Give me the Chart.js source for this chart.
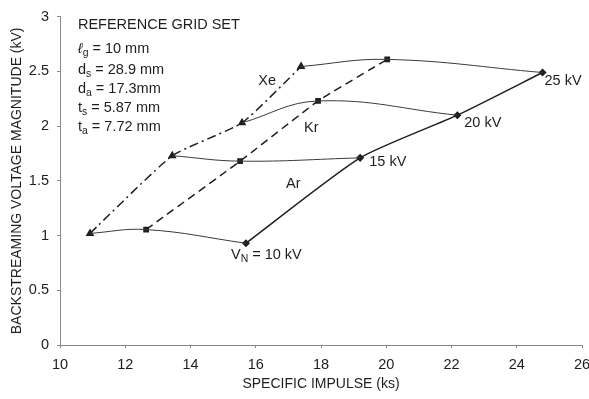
<!DOCTYPE html>
<html>
<head>
<meta charset="utf-8">
<script src="https://cdn.jsdelivr.net/npm/chart.js@4.4.1/dist/chart.umd.min.js"></script>
<style>
  html, body { margin: 0; padding: 0; background: #fff; }
  #wrap { width: 589px; height: 399px; }
</style>
</head>
<body>
<div id="wrap"><canvas id="bsChart" width="589" height="399"></canvas></div>
<script>
// 比推力 (ks) と逆流電圧 (kV) — 読み取り値
const kvLevels   = [10, 15, 20, 25];
const xeImpulse  = [10.92, 13.44, 15.58, 17.39];
const xeVoltage  = [1.02, 1.73, 2.03, 2.545];
const krImpulse  = [12.64, 15.52, 17.91, 20.03];
const krVoltage  = [1.055, 1.68, 2.23, 2.61];
const arImpulse  = [15.7, 19.2, 22.18, 24.79];
const arVoltage  = [0.93, 1.71, 2.10, 2.49];

const xTicks = [10, 12, 14, 16, 18, 20, 22, 24, 26];
const yTicks = [0, 0.5, 1, 1.5, 2, 2.5, 3];

// 注記 (データ座標)
const gasLabels = [
  { text: 'Xe', x: 16.35, y: 2.41, align: 'center' },
  { text: 'Kr', x: 17.7, y: 1.98, align: 'center' },
  { text: 'Ar', x: 17.15, y: 1.47, align: 'center' }
];
const kvLabels = [
  { parts: [['V'], ['N', 'sub'], [' = 10 kV']], x: 15.24, y: 0.82 },
  { parts: [['15 kV']], x: 19.48, y: 1.67 },
  { parts: [['20 kV']], x: 22.39, y: 2.03 },
  { parts: [['25 kV']], x: 24.85, y: 2.41 }
];
const gridSetLines = [
  { parts: [['REFERENCE GRID SET']], y: 2.92 },
  { parts: [['\u2113', 'it'], ['g', 'sub'], [' = 10 mm']], y: 2.705 },
  { parts: [['d'], ['s', 'sub'], [' = 28.9 mm']], y: 2.515 },
  { parts: [['d'], ['a', 'sub'], [' = 17.3mm']], y: 2.34 },
  { parts: [['t'], ['s', 'sub'], [' = 5.87 mm']], y: 2.165 },
  { parts: [['t'], ['a', 'sub'], [' = 7.72 mm']], y: 1.99 }
];
const gridSetX = 10.55;

const FONT = '"Liberation Sans", Arial, sans-serif';
const INK = '#1e1e1e';
const TEXT_SIZE = 14.5;

function toPoints(xs, ys) {
  return xs.map((x, i) => ({ x, y: ys[i] }));
}

// 電圧一定の曲線 (Xe → Kr → Ar)
const kvDatasets = kvLevels.map((kv, i) => ({
  label: kv + ' kV',
  data: [
    { x: xeImpulse[i], y: xeVoltage[i] },
    { x: krImpulse[i], y: krVoltage[i] },
    { x: arImpulse[i], y: arVoltage[i] }
  ],
  showLine: true,
  borderColor: '#3a3a3a',
  borderWidth: 1,
  tension: 0.4,
  pointRadius: 0,
  fill: false
}));

const gasDatasets = [
  {
    label: 'Ar',
    data: toPoints(arImpulse, arVoltage),
    showLine: true,
    borderColor: INK,
    backgroundColor: INK,
    borderWidth: 1.5,
    tension: 0.2,
    pointStyle: 'rectRot',
    pointRadius: 3,
    fill: false
  },
  {
    label: 'Kr',
    data: toPoints(krImpulse, krVoltage),
    showLine: true,
    borderColor: INK,
    backgroundColor: INK,
    borderWidth: 1.5,
    borderDash: [8, 5],
    tension: 0.1,
    pointStyle: 'rect',
    pointRadius: 3,
    fill: false
  },
  {
    label: 'Xe',
    data: toPoints(xeImpulse, xeVoltage),
    showLine: true,
    borderColor: INK,
    backgroundColor: INK,
    borderWidth: 1.5,
    borderDash: [9, 4, 2, 4],
    tension: 0.15,
    pointStyle: 'triangle',
    pointRadius: 3.5,
    fill: false
  }
];

function drawParts(ctx, parts, x, y, size) {
  let cx = x;
  parts.forEach(([t, kind]) => {
    if (kind === 'sub') {
      ctx.font = (size * 0.72) + 'px ' + FONT;
      ctx.fillText(t, cx, y + size * 0.3);
    } else if (kind === 'it') {
      ctx.font = 'italic ' + size + 'px ' + FONT;
      ctx.fillText(t, cx, y);
    } else {
      ctx.font = size + 'px ' + FONT;
      ctx.fillText(t, cx, y);
    }
    cx += ctx.measureText(t).width;
  });
}

const annotationPlugin = {
  id: 'annotations',
  afterDatasetsDraw(chart) {
    const { ctx, scales: { x, y } } = chart;
    ctx.save();
    ctx.fillStyle = INK;
    ctx.textBaseline = 'middle';

    gasLabels.forEach(l => {
      ctx.font = TEXT_SIZE + 'px ' + FONT;
      ctx.textAlign = l.align;
      ctx.fillText(l.text, x.getPixelForValue(l.x), y.getPixelForValue(l.y));
    });

    ctx.textAlign = 'left';
    kvLabels.forEach(l => {
      drawParts(ctx, l.parts, x.getPixelForValue(l.x), y.getPixelForValue(l.y), TEXT_SIZE);
    });
    gridSetLines.forEach(l => {
      drawParts(ctx, l.parts, x.getPixelForValue(gridSetX), y.getPixelForValue(l.y), TEXT_SIZE);
    });
    ctx.restore();
  }
};

new Chart(document.getElementById('bsChart').getContext('2d'), {
  type: 'scatter',
  data: { datasets: [...kvDatasets, ...gasDatasets] },
  options: {
    responsive: false,
    animation: false,
    layout: { padding: { top: 15, right: 0, left: 0, bottom: 0 } },
    plugins: {
      legend: { display: false },
      tooltip: { enabled: false }
    },
    scales: {
      x: {
        type: 'linear',
        min: 10,
        max: 26,
        afterFit(scale) {
          scale.height = 54;
          scale.paddingRight = 7;
          scale.paddingLeft = 0;
        },
        afterBuildTicks(scale) { scale.ticks = xTicks.map(v => ({ value: v })); },
        ticks: { color: INK, font: { family: FONT, size: 14.5 }, padding: 8, maxRotation: 0 },
        grid: { drawOnChartArea: false, color: '#888', tickLength: 3 },
        border: { display: true, color: '#888', dash: [2, 2] },
        title: {
          display: true,
          text: 'SPECIFIC IMPULSE (ks)',
          color: INK,
          font: { family: FONT, size: 14 },
          padding: { top: 0, bottom: 6 }
        }
      },
      y: {
        type: 'linear',
        min: 0,
        max: 3,
        afterFit(scale) { scale.width = 60; },
        afterBuildTicks(scale) { scale.ticks = yTicks.map(v => ({ value: v })); },
        ticks: {
          color: INK,
          font: { family: FONT, size: 14.5 },
          padding: 8,
          callback: v => String(v)
        },
        grid: { drawOnChartArea: false, color: '#888', tickLength: 3 },
        border: { display: true, color: '#888', dash: [2, 2] },
        title: {
          display: true,
          text: 'BACKSTREAMING VOLTAGE MAGNITUDE (kV)',
          color: INK,
          font: { family: FONT, size: 14 },
          padding: { top: 9, bottom: 10 }
        }
      }
    }
  },
  plugins: [annotationPlugin]
});
</script>
</body>
</html>
